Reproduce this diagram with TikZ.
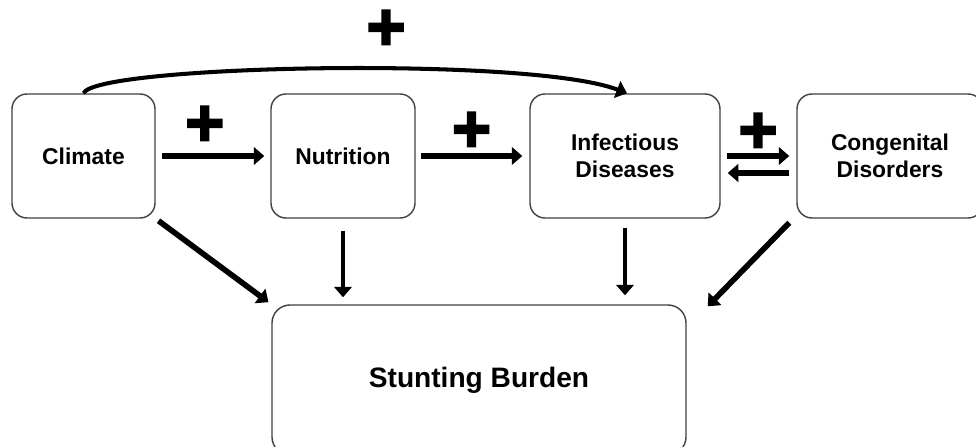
\documentclass[tikz,border=0pt]{standalone}
\usepackage{fontspec}
\setmainfont{Liberation Sans}
\newfontfamily\plusfont[FakeBold=3]{Liberation Sans Bold}
\usetikzlibrary{arrows.meta}

\begin{document}
\begin{tikzpicture}[>={Triangle[length=6pt,width=10pt]},
		box/.style={draw=black!75,line width=0.8pt,rounded corners=0.3cm,inner sep=0pt,align=center,minimum height=2.48cm,font=\bfseries\fontsize{13}{15.5}\selectfont},
		arr/.style={->,line width=3.6pt},
		thinarr/.style={->,line width=2.6pt},
		plus/.style={inner sep=0pt,font=\plusfont\fontsize{38}{38}\selectfont}]
			\useasboundingbox (0,0) rectangle (19.52,8.92);
			\clip (0,0) rectangle (19.52,8.92);
			\node[box,minimum width=2.86cm] (climate) at (1.67,5.8) {Climate};
			\node[box,minimum width=2.88cm] (nutrition) at (6.86,5.8) {Nutrition};
			\node[box,minimum width=3.8cm] (infectious) at (12.5,5.8) {Infectious\\Diseases};
			\node[box,minimum width=3.72cm] (congenital) at (17.8,5.8) {Congenital\\Disorders};
			\node[box,minimum width=8.28cm,minimum height=3cm,rounded corners=0.36cm,font=\bfseries\fontsize{16}{19}\selectfont] (stunting) at (9.58,1.32) {Stunting Burden};
			% links between the factors
			\draw[arr] ([xshift=0.12cm]climate.east) -- node[plus,pos=0.42,yshift=0.6cm] (plusnut) {+} ([xshift=-0.12cm]nutrition.west);
			\draw[arr] ([xshift=0.1cm]nutrition.east) -- node[plus,pos=0.5,yshift=0.48cm] (plusinf) {+} ([xshift=-0.14cm]infectious.west);
			\draw[arr] ([xshift=0.12cm]infectious.east) -- node[plus,pos=0.5,yshift=0.46cm] (pluscon) {+} ([xshift=-0.14cm]congenital.west);
			\draw[arr] ([shift={(-0.14cm,-0.34cm)}]congenital.west) -- ([shift={(0.14cm,-0.34cm)}]infectious.east);
			\draw[->,line width=2.3pt] (climate.north) .. controls (1.9,7.62) and (10.6,7.8) .. ([xshift=0.04cm]infectious.north);
			\node[plus] (plustop) at (7.72,8.32) {+};
			% everything feeds the burden
			\draw[arr,line width=3.2pt,shorten <=2pt,shorten >=2pt] (climate.south east) -- (stunting.north west);
			\draw[thinarr] ([yshift=-0.24cm]nutrition.south) -- ([yshift=0.14cm]nutrition.south |- stunting.north);
			\draw[thinarr] ([yshift=-0.18cm]infectious.south) -- ([yshift=0.18cm]infectious.south |- stunting.north);
			\draw[arr,line width=3.2pt] ([shift={(-0.14cm,-0.08cm)}]congenital.south west) -- ([shift={(0.42cm,-0.04cm)}]stunting.north east);
		\end{tikzpicture}
\end{document}
